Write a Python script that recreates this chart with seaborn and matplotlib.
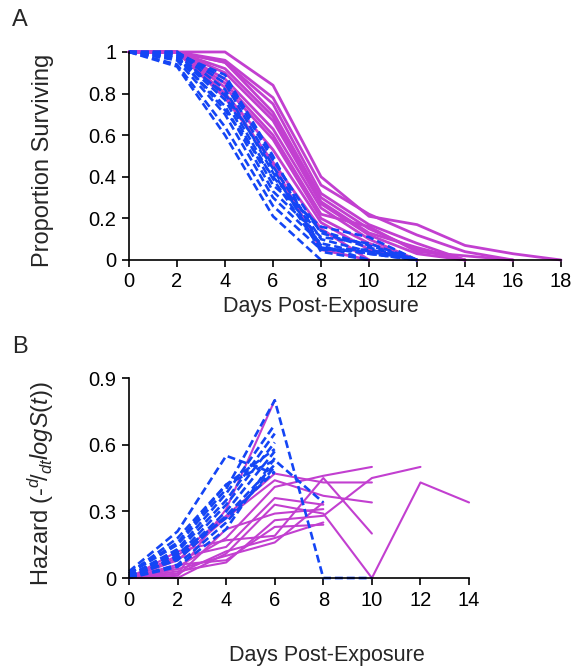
import matplotlib
matplotlib.use("Agg")
import matplotlib.pyplot as plt
import seaborn as sns
import pandas as pd

# --- DATA ---
days = [0, 2, 4, 6, 8, 10, 12, 14, 16, 18]

# panel A: proportion surviving, one list per replicate (starting at day 0)
surv_blue = [
    [1, 0.93, 0.60, 0.21, 0.00],
    [1, 0.94, 0.64, 0.26, 0.05, 0.04, 0.00],
    [1, 0.96, 0.70, 0.30, 0.08, 0.03, 0.00],
    [1, 0.97, 0.74, 0.33, 0.11, 0.08, 0.00],
    [1, 0.98, 0.77, 0.36, 0.16, 0.11, 0.00],
    [1, 0.99, 0.79, 0.39, 0.05, 0.05, 0.00],
    [1, 1.00, 0.82, 0.42, 0.07, 0.00],
    [1, 1.00, 0.85, 0.45, 0.10, 0.04, 0.00],
    [1, 1.00, 0.87, 0.48, 0.13, 0.06, 0.00],
    [1, 0.99, 0.89, 0.50, 0.06, 0.03, 0.00],
    [1, 0.98, 0.72, 0.40, 0.14, 0.07, 0.00],
    [1, 0.97, 0.80, 0.44, 0.04, 0.00],
]
surv_magenta = [
    [1, 1, 1.00, 0.84, 0.40, 0.21, 0.17, 0.07, 0.03, 0.00],
    [1, 1, 0.96, 0.78, 0.36, 0.22, 0.12, 0.04, 0.00],
    [1, 1, 0.95, 0.75, 0.32, 0.17, 0.08, 0.00],
    [1, 1, 0.95, 0.71, 0.30, 0.15, 0.05, 0.00],
    [1, 1, 0.90, 0.67, 0.27, 0.12, 0.03, 0.00],
    [1, 1, 0.87, 0.63, 0.25, 0.10, 0.00],
    [1, 1, 0.83, 0.58, 0.20, 0.08, 0.00],
    [1, 1, 0.80, 0.53, 0.18, 0.05, 0.00],
    [1, 1, 0.78, 0.47, 0.15, 0.00],
    [1, 1, 0.80, 0.46, 0.05, 0.00],
    [1, 1, 0.92, 0.69, 0.28, 0.13, 0.06, 0.00],
    [1, 1, 0.85, 0.60, 0.22, 0.16, 0.04, 0.02, 0.00],
]

# panel B: hazard
haz_blue = [
    [0.03, 0.21, 0.55, 0.47],
    [0.02, 0.18, 0.42, 0.53, 0.34],
    [0.02, 0.15, 0.40, 0.80, 0.00, 0.00],
    [0.01, 0.13, 0.38, 0.69],
    [0.01, 0.12, 0.35, 0.65],
    [0.00, 0.10, 0.33, 0.61],
    [0.00, 0.09, 0.30, 0.57],
    [0.01, 0.08, 0.28, 0.51],
    [0.00, 0.06, 0.25, 0.50],
    [0.00, 0.05, 0.22, 0.54],
    [0.02, 0.16, 0.42, 0.58],
    [0.01, 0.11, 0.27, 0.48],
]
haz_magenta = [
    [0, 0.02, 0.31, 0.80],
    [0, 0.10, 0.28, 0.47, 0.43, 0.43],
    [0, 0.05, 0.18, 0.41, 0.46, 0.50],
    [0, 0.03, 0.07, 0.26, 0.28, 0.45, 0.50],
    [0, 0.00, 0.11, 0.33, 0.29, 0.00, 0.43, 0.34],
    [0, 0.08, 0.27, 0.44, 0.37, 0.34],
    [0, 0.12, 0.17, 0.19, 0.45, 0.20],
    [0, 0.04, 0.10, 0.16, 0.34],
    [0, 0.06, 0.08, 0.23, 0.24],
    [0, 0.01, 0.22, 0.29, 0.31],
    [0, 0.09, 0.14, 0.36, 0.33],
    [0, 0.02, 0.12, 0.18, 0.25],
]

BLUE = "#1445F5"
MAGENTA = "#C23FD0"


def to_long(curves):
    rows = []
    for i, c in enumerate(curves):
        for d, v in zip(days, c):
            rows.append({"day": d, "value": v, "curve": i})
    return pd.DataFrame(rows)


sns.set_style("ticks")
plt.rcParams["font.family"] = ["Liberation Sans", "DejaVu Sans"]
plt.rcParams["mathtext.fontset"] = "custom"
plt.rcParams["mathtext.rm"] = "Liberation Sans"
plt.rcParams["mathtext.it"] = "Liberation Sans:italic"

fig = plt.figure(figsize=(5.77, 6.68), dpi=100)
ax_a = fig.add_axes([0.2236, 0.6108, 0.7487, 0.3114])
ax_b = fig.add_axes([0.2236, 0.1347, 0.5893, 0.2994])


def draw(ax, blue, magenta, lw_m):
    sns.lineplot(data=to_long(magenta), x="day", y="value", units="curve",
                 estimator=None, sort=False, color=MAGENTA, lw=lw_m,
                 clip_on=False, ax=ax, legend=False)
    sns.lineplot(data=to_long(blue), x="day", y="value", units="curve",
                 estimator=None, sort=False, color=BLUE, lw=1.9,
                 dashes=(3, 1.5), clip_on=False, ax=ax, legend=False)


draw(ax_a, surv_blue, surv_magenta, 2.0)
draw(ax_b, haz_blue, haz_magenta, 1.5)

# --- AXES STYLING ---
ax_a.set_xlim(0, 18)
ax_a.set_ylim(0, 1)
ax_a.set_xticks(range(0, 19, 2))
ax_a.set_yticks([0, 0.2, 0.4, 0.6, 0.8, 1])
ax_a.set_yticklabels(["0", "0.2", "0.4", "0.6", "0.8", "1"])
ax_a.set_ylabel("Proportion Surviving", fontsize=17)
ax_a.set_xlabel("Days Post-Exposure", fontsize=15.5)

ax_b.set_xlim(0, 14)
ax_b.set_ylim(0, 0.9)
ax_b.set_xticks(range(0, 15, 2))
ax_b.set_yticks([0, 0.3, 0.6, 0.9])
ax_b.set_yticklabels(["0", "0.3", "0.6", "0.9"])
ax_b.set_ylabel(r"Hazard (-$^{d}\!/_{dt}logS(t)$)", fontsize=17)
ax_b.set_xlabel("Days Post-Exposure", fontsize=15.5)

for ax in (ax_a, ax_b):
    sns.despine(ax=ax)
    for s in ("left", "bottom"):
        ax.spines[s].set_linewidth(1.2)
        ax.spines[s].set_color("black")
    ax.tick_params(direction="out", length=5, width=1.2, labelsize=14.5,
                   colors="black", pad=4)

# label positions in figure pixels converted to axes coords
ax_a.xaxis.set_label_coords((321 - 129) / 432, -36 / 208)
ax_a.yaxis.set_label_coords(-75 / 432, 0.48)
ax_b.xaxis.set_label_coords((327 - 129) / 340, -67 / 200)
ax_b.yaxis.set_label_coords(-73 / 340, 0.47)

fig.text(20 / 577, 1 - 20 / 668, "A", fontsize=17, ha="center", va="center")
fig.text(20 / 577, 1 - 347 / 668, "B", fontsize=17, ha="center", va="center")

fig.savefig("out.png", dpi=100)
